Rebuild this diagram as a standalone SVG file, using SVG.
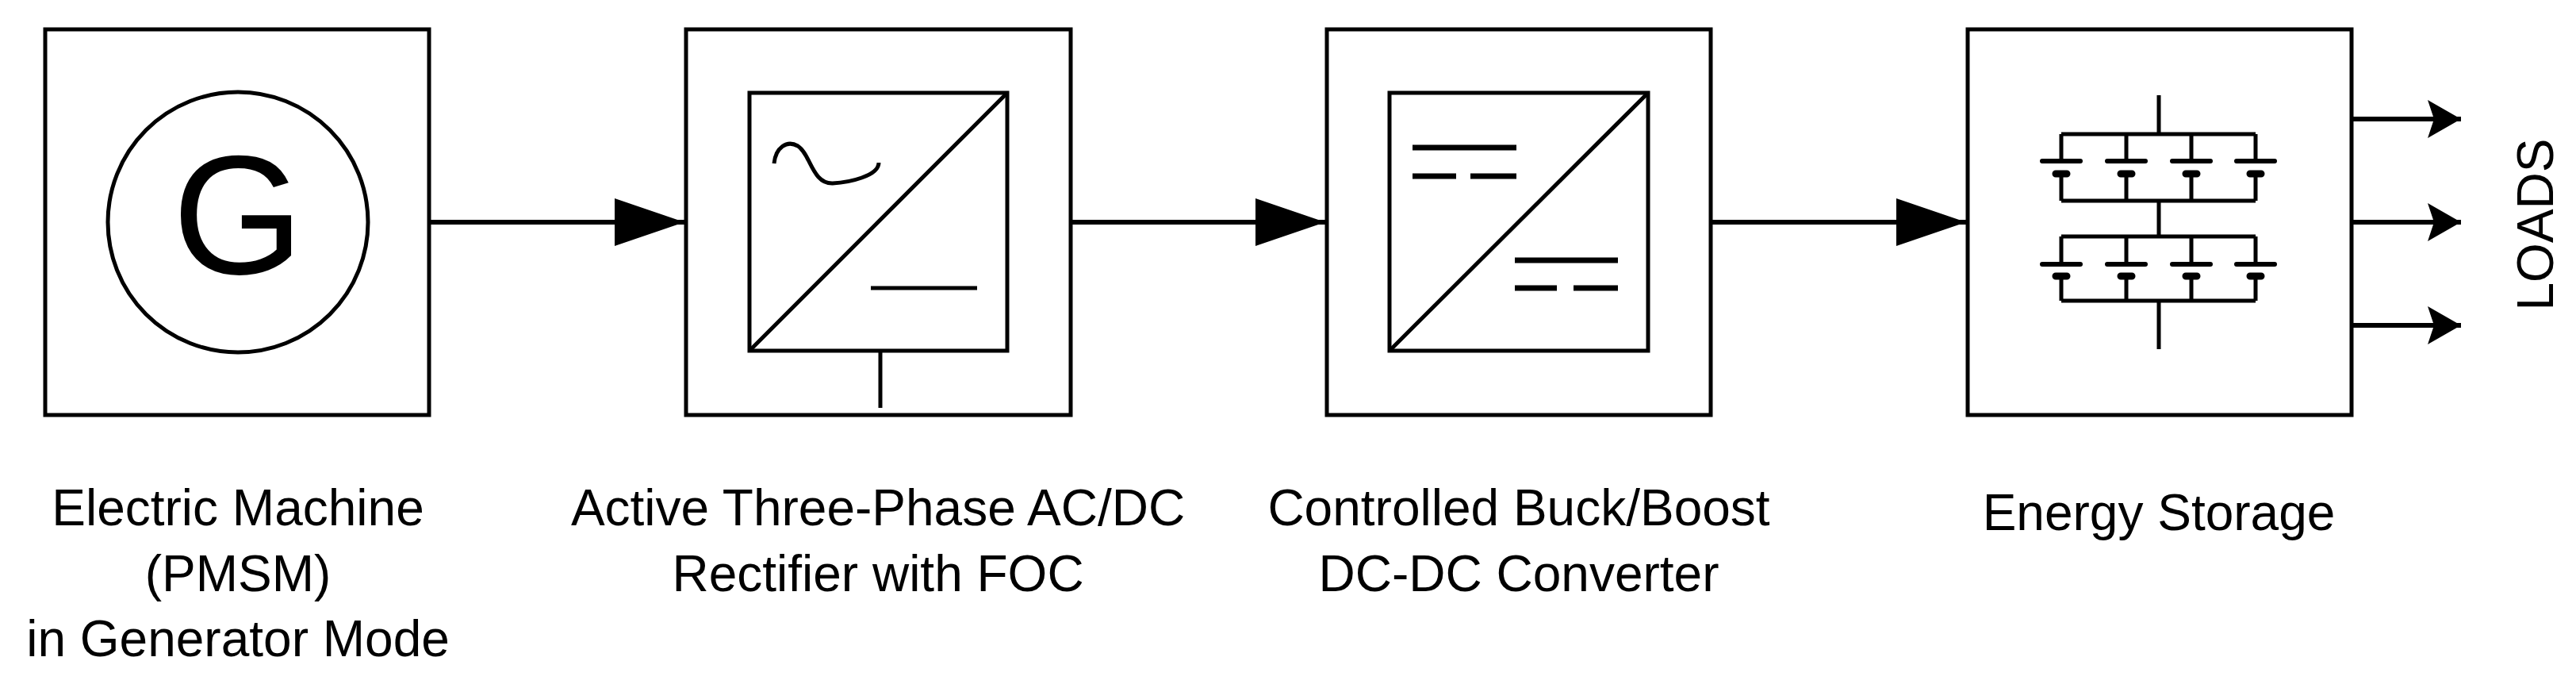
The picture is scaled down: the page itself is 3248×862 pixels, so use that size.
<svg xmlns="http://www.w3.org/2000/svg" width="3248" height="862" viewBox="0 0 3248 862">
<style>
.b{fill:none;stroke:#000;stroke-width:5}
.t{font-family:"Liberation Sans",Arial,sans-serif;font-size:64px;text-anchor:middle;fill:#000}
</style>
<defs>
<marker id="ah" markerUnits="userSpaceOnUse" markerWidth="90" markerHeight="60" refX="88" refY="30" orient="auto"><path d="M0,0 L88,30 L0,60 Z" fill="#000"/></marker>
<marker id="la" markerUnits="userSpaceOnUse" markerWidth="44" markerHeight="48" refX="42" refY="24" orient="auto"><path d="M0,0 L42,24 L0,48 L8,24 Z" fill="#000"/></marker>
</defs>
<rect width="3248" height="862" fill="#fff"/>
<g id="machine">
<rect class="b" x="57" y="37" width="484" height="486"/>
<circle class="b" cx="300" cy="280" r="164"/>
<text x="300" y="345" font-family="Liberation Sans,Arial,sans-serif" font-size="213" text-anchor="middle">G</text>
<text class="t" x="300" y="662">Electric Machine</text>
<text class="t" x="300" y="745">(PMSM)</text>
<text class="t" x="300" y="827">in Generator Mode</text>
</g>
<g id="rectifier">
<rect class="b" x="865" y="37" width="485" height="486"/>
<rect class="b" x="945" y="117" width="325" height="325"/>
<path class="b" d="M945,442 L1270,117"/>
<path class="b" d="M976,206 C984,170 1010,172 1022,200 C1034,232 1060,232 1108,194" style="display:none"/>
<path class="b" d="M976,207 C980,182 998,172 1012,186 C1024,200 1028,232 1048,231 C1064,230 1112,222 1108,196" style="display:none"/>
<path class="b" d="M976,206 C978,186 992,176 1006,184 C1022,194 1024,232 1050,231 C1070,230 1108,222 1108,205"/>
<path class="b" d="M1098,363 H1232"/>
<path class="b" d="M1110,442 V514"/>
<text class="t" x="1107" y="662">Active Three-Phase AC/DC</text>
<text class="t" x="1107" y="745">Rectifier with FOC</text>
</g>
<g id="converter">
<rect class="b" x="1673" y="37" width="484" height="486"/>
<rect class="b" x="1752" y="117" width="326" height="325"/>
<path class="b" d="M1752,442 L2078,117"/>
<path class="b" style="stroke-width:7" d="M1781,186 H1912 M1781,222 H1836 M1854,222 H1912 M1910,328 H2040 M1910,363 H1963 M1984,363 H2040"/>
<text class="t" x="1915" y="662">Controlled Buck/Boost</text>
<text class="t" x="1915" y="745">DC-DC Converter</text>
</g>
<g id="storage">
<rect class="b" x="2481" y="37" width="484" height="486"/>
<path class="b" d="M2722,120 V169 M2599,169 H2844 M2599,169 V203 M2681,169 V203 M2763,169 V203 M2844,169 V203 M2599,219 V253 M2681,219 V253 M2763,219 V253 M2844,219 V253 M2599,253 H2844 M2722,253 V298 M2599,298 H2844 M2599,298 V333 M2681,298 V333 M2763,298 V333 M2844,298 V333 M2599,348 V379 M2681,348 V379 M2763,348 V379 M2844,348 V379 M2599,379 H2844 M2722,379 V440"/>
<path stroke="#000" stroke-width="6" stroke-linecap="round" d="M2575,203 H2623 M2657,203 H2705 M2739,203 H2787 M2820,203 H2868 M2575,333 H2623 M2657,333 H2705 M2739,333 H2787 M2820,333 H2868"/>
<path stroke="#000" stroke-width="9" stroke-linecap="round" d="M2592,219 H2606 M2674,219 H2688 M2756,219 H2770 M2837,219 H2851 M2592,348 H2606 M2674,348 H2688 M2756,348 H2770 M2837,348 H2851"/>
<text class="t" x="2722" y="668">Energy Storage</text>
</g>
<g id="loads">
<text font-family="Liberation Sans,Arial,sans-serif" font-size="64" text-anchor="middle" transform="translate(3219,283) rotate(-90)">LOADS</text>
</g>
<g id="connectors" fill="none" stroke="#000" stroke-width="6">
<path d="M541,280 H863" marker-end="url(#ah)"/>
<path d="M1350,280 H1671" marker-end="url(#ah)"/>
<path d="M2157,280 H2479" marker-end="url(#ah)"/>
<path d="M2965,150 H3103" marker-end="url(#la)"/>
<path d="M2965,280 H3103" marker-end="url(#la)"/>
<path d="M2965,410 H3103" marker-end="url(#la)"/>
</g>
</svg>
